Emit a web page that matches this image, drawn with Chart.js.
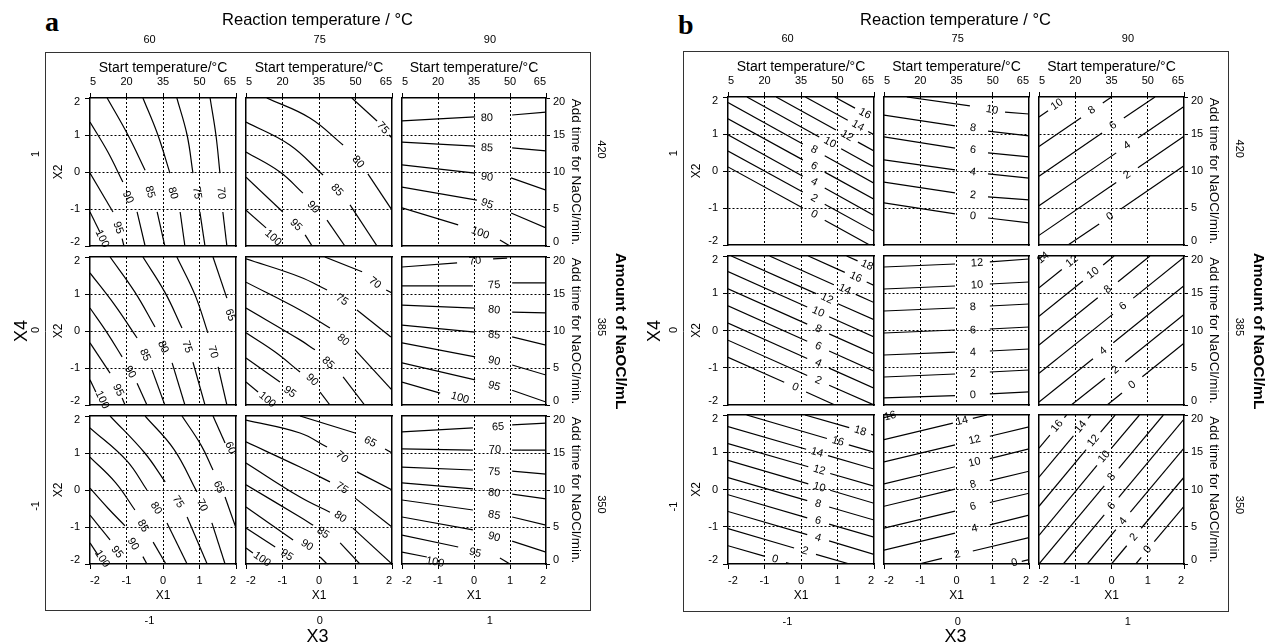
<!DOCTYPE html>
<html><head><meta charset="utf-8">
<script src="https://cdn.jsdelivr.net/npm/chart.js@4.4.1/dist/chart.umd.min.js"></script>
<style>
html,body{margin:0;padding:0;width:1265px;height:644px;overflow:hidden;background:#fff;position:relative;}
canvas{position:absolute;}
.pl{position:absolute;font-family:"Liberation Serif","DejaVu Serif",serif;font-weight:bold;font-size:28px;line-height:28px;color:#000;}
</style></head><body>
<div class="pl" style="left:45px;top:8px;">a</div>
<div class="pl" style="left:678px;top:11px;">b</div>
<script>
// ---------- axis ticks / labels ----------
const x1Ticks = [-2, -1, 0, 1, 2];
const x2Ticks = [-2, -1, 0, 1, 2];
const startTemps = ['5', '20', '35', '50', '65'];
const addTimes = ['0', '5', '10', '15', '20'];
const x3Levels = [-1, 0, 1];
const reactionTemps = ['60', '75', '90'];
const x4Levels = [1, 0, -1];
const naoclAmounts = ['420', '385', '350'];

// ---------- contour lines (X1, X2 coordinates), v = level, at = label position ----------
// panel a : yield
const a11 = [
 {v:70, s:[[[1.29,2],[1.45,1.0],[1.56,-0.03]],[[1.64,-1.08],[1.75,-2]]], at:[1.59,-0.57]},
 {v:75, s:[[[0.38,2],[0.66,1.0],[0.82,-0.03]],[[1.01,-1.08],[1.15,-2]]], at:[0.93,-0.57]},
 {v:80, s:[[[-0.55,2],[-0.14,1.0],[0.19,-0.03]],[[0.47,-1.08],[0.6,-2]]], at:[0.27,-0.57]},
 {v:85, s:[[[-1.53,2],[-0.96,1.0],[-0.49,0.05]],[[-0.16,-1.08],[0.05,-2]]], at:[-0.36,-0.54]},
 {v:90, s:[[[-2,1.35],[-1.51,0.54],[-1.10,-0.27]],[[-0.71,-1.08],[-0.49,-2]]], at:[-0.96,-0.68]},
 {v:95, s:[[[-2,-0.03],[-1.37,-1.08]],[[-1.12,-1.8],[-1.07,-2]]], at:[-1.23,-1.51]},
 {v:100, s:[[[-2,-1.08],[-1.73,-1.62]]], at:[-1.67,-1.80]}
];
const a12 = [
 {v:75, s:[[[0.9,2],[1.59,1.38]],[[1.92,1.0],[2,0.92]]], at:[1.75,1.19]},
 {v:80, s:[[[-1.43,2],[-0.25,1.46],[0.66,0.73]],[[1.34,-0.05],[2,-1.03]]], at:[1.07,0.27]},
 {v:85, s:[[[-2,1.35],[-0.8,0.73],[0.11,-0.08]],[[0.85,-0.89],[1.59,-2]]], at:[0.49,-0.49]},
 {v:90, s:[[[-2,0.54],[-1.07,0],[-0.44,-0.57]],[[0.22,-1.3],[0.71,-2]]], at:[-0.16,-0.95]},
 {v:95, s:[[[-2,-0.14],[-0.99,-1.08]],[[-0.38,-1.7],[-0.19,-2]]], at:[-0.63,-1.43]},
 {v:100, s:[[[-2,-1.03],[-1.45,-1.51]]], at:[-1.26,-1.78]}
];
const a13 = [
 {v:80, s:[[[-2,1.38],[0.03,1.49]],[[1.06,1.54],[2,1.62]]], at:[0.36,1.46]},
 {v:85, s:[[[-2,0.81],[0.03,0.7]],[[1.06,0.65],[2,0.57]]], at:[0.36,0.65]},
 {v:90, s:[[[-2,0.19],[0.03,-0.03]],[[1.03,-0.16],[2,-0.49]]], at:[0.36,-0.14]},
 {v:95, s:[[[-2,-0.41],[0.08,-0.76]],[[1.03,-1.11],[2,-1.51]]], at:[0.36,-0.86]},
 {v:100, s:[[[-2,-0.97],[-0.44,-1.43]],[[0.72,-1.84],[1.0,-2]]], at:[0.17,-1.65]}
];
const a21 = [
 {v:65, s:[[[1.37,2],[1.75,0.89]]], at:[1.84,0.43]},
 {v:70, s:[[[0.38,2],[0.88,0.97],[1.23,-0.05]],[[1.51,-0.97],[1.75,-2]]], at:[1.37,-0.57]},
 {v:75, s:[[[-0.55,2],[0.05,1.05],[0.52,0.08]],[[0.82,-0.84],[1.15,-2]]], at:[0.66,-0.43]},
 {v:80, s:[[[-1.45,2],[-0.77,1.05],[-0.22,0.11]],[[0.25,-0.86],[0.6,-2]]], at:[0,-0.43]},
 {v:85, s:[[[-2,1.57],[-1.32,0.70],[-0.71,-0.19]],[[-0.30,-1.05],[0.05,-2]]], at:[-0.49,-0.65]},
 {v:90, s:[[[-2,0.62],[-1.53,-0.05],[-1.12,-0.70]],[[-0.71,-1.41],[-0.44,-2]]], at:[-0.9,-1.11]},
 {v:95, s:[[[-2,-0.32],[-1.45,-1.14]],[[-1.12,-1.81],[-1.04,-2]]], at:[-1.23,-1.6]},
 {v:100, s:[[[-2,-1.32],[-1.84,-1.65]]], at:[-1.67,-1.86]}
];
const a22 = [
 {v:70, s:[[[0.16,2],[1.18,1.6]],[[1.84,1.11],[2,1.03]]], at:[1.53,1.30]},
 {v:75, s:[[[-2,1.95],[-0.52,1.46],[0.22,1.11]],[[1.04,0.57],[1.97,-0.16]]], at:[0.63,0.84]},
 {v:80, s:[[[-2,1.32],[-0.52,0.57],[0.3,0.08]],[[0.99,-0.51],[2,-1.6]]], at:[0.66,-0.24]},
 {v:85, s:[[[-2,0.62],[-0.52,-0.24],[-0.11,-0.51]],[[0.66,-1.24],[1.25,-2]]], at:[0.25,-0.86]},
 {v:90, s:[[[-2,-0.05],[-1.2,-0.57],[-0.52,-1.11]],[[0.03,-1.65],[0.3,-2]]], at:[-0.19,-1.32]},
 {v:95, s:[[[-2,-0.73],[-1.07,-1.38]]], at:[-0.8,-1.65]},
 {v:100, s:[[[-2,-1.38],[-1.67,-1.65]]], at:[-1.42,-1.86]}
];
const a23 = [
 {v:70, s:[[[-2,1.73],[-0.47,1.84]],[[0.53,1.95],[0.92,1.97]]], at:[0.03,1.89]},
 {v:75, s:[[[-2,1.22],[-0.03,1.22]],[[1.06,1.3],[2,1.3]]], at:[0.56,1.24]},
 {v:80, s:[[[-2,0.70],[0.03,0.62]],[[1.06,0.51],[2,0.49]]], at:[0.56,0.57]},
 {v:85, s:[[[-2,0.16],[0.03,-0.03]],[[1.06,-0.16],[2,-0.38]]], at:[0.56,-0.11]},
 {v:90, s:[[[-2,-0.32],[0.03,-0.70]],[[1.06,-0.92],[2,-1.19]]], at:[0.56,-0.81]},
 {v:95, s:[[[-2,-0.86],[0.03,-1.32]],[[1.06,-1.6],[2,-1.92]]], at:[0.56,-1.49]},
 {v:100, s:[[[-2,-1.38],[-0.94,-1.68]]], at:[-0.39,-1.81]}
];
const a31 = [
 {v:60, s:[[[1.37,2],[1.7,1.27]]], at:[1.84,1.14]},
 {v:65, s:[[[0.52,2],[1.05,1.2],[1.37,0.54]],[[1.7,-0.19],[2,-1.03]]], at:[1.53,0.08]},
 {v:70, s:[[[-0.49,2],[0.3,1.1],[0.93,-0.05]],[[1.34,-0.89],[1.7,-2]]], at:[1.07,-0.41]},
 {v:75, s:[[[-1.45,2],[-0.5,1.0],[0.06,0.22]],[[0.66,-0.73],[1.21,-2]]], at:[0.41,-0.32]},
 {v:80, s:[[[-2,1.68],[-1.0,0.8],[-0.44,0.0]],[[0.11,-0.89],[0.66,-2]]], at:[-0.19,-0.49]},
 {v:85, s:[[[-2,0.89],[-1.3,0.2],[-0.77,-0.54]],[[-0.27,-1.41],[0.08,-2]]], at:[-0.55,-0.97]},
 {v:90, s:[[[-2,0.05],[-1.5,-0.5],[-1.04,-0.97]],[[-0.55,-1.8],[-0.44,-2]]], at:[-0.82,-1.46]},
 {v:95, s:[[[-2,-0.68],[-1.45,-1.35]]], at:[-1.26,-1.68]},
 {v:100, s:[[[-2,-1.43],[-1.78,-1.76]]], at:[-1.67,-1.86]}
];
const a32 = [
 {v:65, s:[[[-0.52,2],[0.99,1.54]],[[1.81,1.11],[2,1.0]]], at:[1.40,1.30]},
 {v:70, s:[[[-2,1.89],[-0.52,1.54],[0.22,1.16]],[[1.04,0.49],[2,0.0]]], at:[0.63,0.89]},
 {v:75, s:[[[-2,1.30],[-0.52,0.62],[0.30,0.22]],[[0.99,-0.22],[2,-1.0]]], at:[0.63,0.05]},
 {v:80, s:[[[-2,0.73],[-0.52,-0.19],[0.30,-0.6]],[[0.93,-1.03],[2,-2]]], at:[0.58,-0.73]},
 {v:85, s:[[[-2,0.14],[-0.52,-0.73],[-0.16,-0.95]],[[0.58,-1.43],[1.12,-2]]], at:[0.11,-1.16]},
 {v:90, s:[[[-2,-0.46],[-0.71,-1.35]],[[0.03,-1.81],[0.22,-2]]], at:[-0.33,-1.49]},
 {v:95, s:[[[-2,-1.03],[-1.2,-1.54]]], at:[-0.88,-1.76]},
 {v:100, s:[[[-2,-1.57],[-1.81,-1.7]]], at:[-1.56,-1.87]}
];
const a33 = [
 {v:65, s:[[[-2,1.57],[-0.03,1.68]],[[1.06,1.76],[2,1.81]]], at:[0.67,1.70]},
 {v:70, s:[[[-2,1.11],[-0.03,1.08]],[[1.06,1.08],[2,1.08]]], at:[0.58,1.08]},
 {v:75, s:[[[-2,0.62],[-0.03,0.54]],[[1.06,0.51],[2,0.43]]], at:[0.56,0.49]},
 {v:80, s:[[[-2,0.19],[-0.03,0.03]],[[1.06,-0.11],[2,-0.24]]], at:[0.56,-0.08]},
 {v:85, s:[[[-2,-0.27],[-0.03,-0.54]],[[1.06,-0.73],[2,-0.95]]], at:[0.56,-0.68]},
 {v:90, s:[[[-2,-0.73],[-0.03,-1.08]],[[1.06,-1.38],[2,-1.68]]], at:[0.56,-1.27]},
 {v:95, s:[[[-2,-1.22],[-0.44,-1.54]],[[0.72,-1.84],[1.0,-2]]], at:[0.03,-1.70]},
 {v:100, s:[[[-2,-1.68],[-1.31,-1.81]]], at:[-1.08,-1.95]}
];
// panel b
const b11 = [
 {v:0, s:[[[-2,0.11],[0.05,-1.0]],[[0.65,-1.33],[1.88,-2]]], at:[0.36,-1.17]},
 {v:2, s:[[[-2,0.54],[0.05,-0.57]],[[0.65,-0.90],[2,-1.63]]], at:[0.36,-0.74]},
 {v:4, s:[[[-2,0.98],[0.05,-0.14]],[[0.65,-0.46],[2,-1.20]]], at:[0.36,-0.30]},
 {v:6, s:[[[-2,1.41],[0.05,0.30]],[[0.65,-0.03],[2,-0.76]]], at:[0.36,0.13]},
 {v:8, s:[[[-2,1.85],[0.05,0.73]],[[0.65,0.41],[2,-0.33]]], at:[0.36,0.57]},
 {v:10, s:[[[-1.48,2],[0.5,0.92]],[[1.1,0.60],[2,0.11]]], at:[0.79,0.77]},
 {v:12, s:[[[-0.68,2],[0.96,1.11]],[[1.56,0.78],[2,0.54]]], at:[1.26,0.95]},
 {v:14, s:[[[0.12,2],[1.28,1.37]],[[1.84,1.07],[2,0.98]]], at:[1.56,1.22]},
 {v:16, s:[[[0.92,2],[1.48,1.70]]], at:[1.75,1.55]}
];
const b12 = [
 {v:10, s:[[[-1.37,2],[0.37,1.76]],[[1.34,1.59],[2,1.54]]], at:[0.98,1.65]},
 {v:8, s:[[[-2,1.51],[-0.04,1.22]],[[0.87,1.08],[2,0.95]]], at:[0.455,1.16]},
 {v:6, s:[[[-2,0.92],[-0.04,0.62]],[[0.87,0.49],[2,0.38]]], at:[0.455,0.57]},
 {v:4, s:[[[-2,0.30],[-0.04,0.03]],[[0.87,-0.08],[2,-0.19]]], at:[0.455,-0.03]},
 {v:2, s:[[[-2,-0.30],[-0.04,-0.59]],[[0.87,-0.70],[2,-0.78]]], at:[0.455,-0.65]},
 {v:0, s:[[[-2,-0.86],[-0.04,-1.16]],[[0.87,-1.27],[2,-1.40]]], at:[0.455,-1.22]}
];
const b13 = [
 {v:10, s:[[[-2,1.46],[-1.75,1.63]]], at:[-1.5,1.8]},
 {v:8, s:[[[-2,0.66],[-0.84,1.44]],[[-0.24,1.84],[0,2]]], at:[-0.54,1.64]},
 {v:6, s:[[[-2,-0.14],[-0.26,1.03]],[[0.34,1.43],[1.2,2]]], at:[0.04,1.23]},
 {v:4, s:[[[-2,-0.94],[0.13,0.49]],[[0.73,0.89],[2,1.74]]], at:[0.43,0.69]},
 {v:2, s:[[[-2,-1.74],[0.13,-0.31]],[[0.73,0.09],[2,0.94]]], at:[0.43,-0.11]},
 {v:0, s:[[[-1.2,-2],[-0.34,-1.43]],[[0.26,-1.03],[2,0.14]]], at:[-0.04,-1.23]}
];
const b21 = [
 {v:0, s:[[[-2,-0.72],[-0.46,-1.39]],[[0.14,-1.65],[0.93,-2]]], at:[-0.16,-1.52]},
 {v:2, s:[[[-2,-0.26],[0.17,-1.21]],[[0.77,-1.47],[2,-2]]], at:[0.47,-1.34]},
 {v:4, s:[[[-2,0.20],[0.17,-0.75]],[[0.77,-1.01],[2,-1.55]]], at:[0.47,-0.88]},
 {v:6, s:[[[-2,0.66],[0.17,-0.29]],[[0.77,-0.55],[2,-1.09]]], at:[0.47,-0.42]},
 {v:8, s:[[[-2,1.12],[0.17,0.17]],[[0.77,-0.09],[2,-0.63]]], at:[0.47,0.04]},
 {v:10, s:[[[-2,1.58],[0.17,0.63]],[[0.77,0.37],[2,-0.17]]], at:[0.47,0.50]},
 {v:12, s:[[[-1.91,2],[0.41,0.99]],[[1.01,0.72],[2,0.29]]], at:[0.71,0.855]},
 {v:14, s:[[[-0.86,2],[0.9,1.23]],[[1.5,0.97],[2,0.75]]], at:[1.2,1.10]},
 {v:16, s:[[[0.2,2],[1.2,1.56]],[[1.8,1.30],[2,1.21]]], at:[1.5,1.43]},
 {v:18, s:[[[1.25,2],[1.55,1.87]]], at:[1.81,1.75]}
];
const b22 = [
 {v:12, s:[[[-2,1.705],[-0.04,1.785]],[[0.92,1.84],[2,1.92]]], at:[0.566,1.81]},
 {v:10, s:[[[-2,1.114],[-0.04,1.195]],[[0.92,1.248],[2,1.302]]], at:[0.566,1.22]},
 {v:8, s:[[[-2,0.523],[-0.04,0.604]],[[0.92,0.658],[2,0.711]]], at:[0.455,0.63]},
 {v:6, s:[[[-2,-0.067],[-0.04,0.013]],[[0.92,0.04],[2,0.094]]], at:[0.455,0.0]},
 {v:4, s:[[[-2,-0.658],[-0.04,-0.578]],[[0.92,-0.55],[2,-0.497]]], at:[0.455,-0.59]},
 {v:2, s:[[[-2,-1.248],[-0.04,-1.168]],[[0.92,-1.114],[2,-1.06]]], at:[0.455,-1.16]},
 {v:0, s:[[[-2,-1.81],[-0.04,-1.75]],[[0.92,-1.7],[2,-1.65]]], at:[0.455,-1.73]}
];
const b23 = [
 {v:14, s:[[[-2,1.92],[-1.9,2]]], at:[-1.89,1.95]},
 {v:12, s:[[[-2,1.15],[-1.37,1.64]]], at:[-1.09,1.86]},
 {v:10, s:[[[-2,0.38],[-0.79,1.33]],[[-0.23,1.76],[0.07,2]]], at:[-0.51,1.54]},
 {v:8, s:[[[-2,-0.39],[-0.38,0.88]],[[0.18,1.31],[1.06,2]]], at:[-0.10,1.10]},
 {v:6, s:[[[-2,-1.15],[0.04,0.44]],[[0.6,0.87],[2,1.97]]], at:[0.32,0.65]},
 {v:4, s:[[[-2,-1.92],[-0.51,-0.76]],[[0.05,-0.33],[2,1.20]]], at:[-0.23,-0.55]},
 {v:2, s:[[[-1.11,-2],[-0.18,-1.28]],[[0.38,-0.84],[2,0.43]]], at:[0.10,-1.06]},
 {v:0, s:[[[-0.12,-2],[0.29,-1.68]],[[0.85,-1.24],[2,-0.34]]], at:[0.57,-1.46]}
];
const b31 = [
 {v:0, s:[[[-2,-1.51],[-1.01,-1.79]],[[-0.41,-1.96],[-0.27,-2]]], at:[-0.71,-1.87]},
 {v:2, s:[[[-2,-1.05],[-0.19,-1.57]],[[0.41,-1.74],[1.33,-2]]], at:[0.11,-1.65]},
 {v:4, s:[[[-2,-0.59],[0.17,-1.21]],[[0.77,-1.38],[2,-1.74]]], at:[0.47,-1.30]},
 {v:6, s:[[[-2,-0.14],[0.17,-0.76]],[[0.77,-0.93],[2,-1.28]]], at:[0.47,-0.84]},
 {v:8, s:[[[-2,0.32],[0.17,-0.30]],[[0.77,-0.47],[2,-0.82]]], at:[0.47,-0.39]},
 {v:10, s:[[[-2,0.78],[0.2,0.15]],[[0.8,-0.02],[2,-0.37]]], at:[0.5,0.06]},
 {v:12, s:[[[-2,1.23],[0.2,0.61]],[[0.8,0.43],[2,0.09]]], at:[0.5,0.52]},
 {v:14, s:[[[-2,1.69],[0.14,1.08]],[[0.74,0.91],[2,0.55]]], at:[0.44,0.99]},
 {v:16, s:[[[-1.49,2],[0.71,1.37]],[[1.31,1.20],[2,1.0]]], at:[1.01,1.29]},
 {v:18, s:[[[0.11,2],[1.32,1.66]],[[1.92,1.48],[2,1.46]]], at:[1.62,1.57]}
];
const b32 = [
 {v:16, s:[[[-2,1.93],[-1.7,2]]], at:[-1.83,1.97]},
 {v:14, s:[[[-2,1.34],[-0.1,1.78]],[[0.45,1.91],[0.84,2]]], at:[0.15,1.84]},
 {v:12, s:[[[-2,0.74],[-0.04,1.20]],[[0.92,1.43],[2,1.68]]], at:[0.5,1.33]},
 {v:10, s:[[[-2,0.15],[-0.04,0.61]],[[0.92,0.83],[2,1.09]]], at:[0.5,0.73]},
 {v:8, s:[[[-2,-0.45],[-0.04,0.01]],[[0.92,0.24],[2,0.49]]], at:[0.455,0.13]},
 {v:6, s:[[[-2,-1.04],[-0.04,-0.58]],[[0.92,-0.35],[2,-0.10]]], at:[0.455,-0.46]},
 {v:4, s:[[[-2,-1.63],[-0.04,-1.17]],[[0.92,-0.95],[2,-0.69]]], at:[0.5,-1.05]},
 {v:2, s:[[[-1.04,-2],[-0.4,-1.85]],[[0.45,-1.65],[2,-1.29]]], at:[0.02,-1.75]},
 {v:0, s:[[[1.8,-1.93],[2,-1.88]]], at:[1.6,-1.97]}
];
const b33 = [
 {v:16, s:[[[-2,1.11],[-1.7,1.46]],[[-1.3,1.93],[-1.24,2]]], at:[-1.5,1.70]},
 {v:14, s:[[[-2,0.33],[-1.05,1.44]],[[-0.65,1.91],[-0.57,2]]], at:[-0.85,1.68]},
 {v:12, s:[[[-2,-0.45],[-0.7,1.07]],[[-0.3,1.54],[0.1,2]]], at:[-0.5,1.31]},
 {v:10, s:[[[-2,-1.23],[-0.4,0.65]],[[0,1.11],[0.77,2]]], at:[-0.2,0.88]},
 {v:8, s:[[[-2,-2],[-0.2,0.10]],[[0.2,0.57],[1.43,2]]], at:[0,0.335]},
 {v:6, s:[[[-1.33,-2],[-0.2,-0.68]],[[0.2,-0.21],[2,1.89]]], at:[0,-0.44]},
 {v:4, s:[[[-0.67,-2],[0.12,-1.08]],[[0.52,-0.61],[2,1.11]]], at:[0.32,-0.85]},
 {v:2, s:[[[0,-2],[0.42,-1.51]],[[0.82,-1.04],[2,0.33]]], at:[0.62,-1.28]},
 {v:0, s:[[[0.67,-2],[0.82,-1.82]],[[1.18,-1.40],[2,-0.45]]], at:[1.0,-1.61]}
];

// ---------- rendering ----------
const FONT = '"Liberation Sans", Arial, Helvetica, sans-serif';
Chart.defaults.font.family = FONT;
Chart.defaults.color = '#000';

function place(left, top, w, h) {
  const c = document.createElement('canvas');
  c.width = w; c.height = h;
  c.style.left = left + 'px'; c.style.top = top + 'px';
  c.style.width = w + 'px'; c.style.height = h + 'px';
  document.body.appendChild(c);
  return c;
}
function fix(size, horiz) {
  return s => {
    if (horiz) s.height = size; else s.width = size;
    s.paddingLeft = 0; s.paddingRight = 0; s.paddingTop = 0; s.paddingBottom = 0;
  };
}
function mkDatasets(contours) {
  const ds = [];
  contours.forEach(c => c.s.forEach(seg => ds.push({
    data: seg.map(p => ({x: p[0], y: p[1]})),
    showLine: true, borderColor: '#000', borderWidth: 1.2,
    pointRadius: 0, pointHoverRadius: 0, tension: seg.length > 2 ? 0.4 : 0, fill: false
  })));
  return ds;
}
function labelPlugin(contours) {
  return {
    id: 'contourLabels',
    afterDatasetsDraw(chart) {
      const {ctx} = chart; const xs = chart.scales.x, ys = chart.scales.y;
      ctx.save();
      ctx.font = '11px ' + FONT; ctx.fillStyle = '#000';
      ctx.textAlign = 'center'; ctx.textBaseline = 'middle';
      contours.forEach(c => {
        if (!c.at) return;
        let p0, p1;
        if (c.s.length > 1) { const a = c.s[0], b = c.s[1]; p0 = a[a.length - 1]; p1 = b[0]; }
        else { const a = c.s[0]; p0 = a[a.length - 2]; p1 = a[a.length - 1]; }
        const dx = xs.getPixelForValue(p1[0]) - xs.getPixelForValue(p0[0]);
        const dy = ys.getPixelForValue(p1[1]) - ys.getPixelForValue(p0[1]);
        let ang = Math.atan2(dy, dx);
        if (ang > Math.PI / 2) ang -= Math.PI;
        if (ang <= -Math.PI / 2) ang += Math.PI;
        ctx.save();
        ctx.translate(xs.getPixelForValue(c.at[0]), ys.getPixelForValue(c.at[1]));
        ctx.rotate(ang);
        ctx.fillText(String(c.v), 0, 0);
        ctx.restore();
      });
      ctx.restore();
    }
  };
}

const M = 45;
function subplot(l, t, r, b, contours, e) {
  const W = r - l, H = b - t;
  const cv = place(l - M, t - M, W + 2 * M, H + 2 * M);
  const edgeGrid = c => (c.tick && Math.abs(c.tick.value) > 1.5) ? 'rgba(0,0,0,0)' : '#000';
  const setX = s => { s.ticks = x1Ticks.map(v => ({value: v})); };
  const setY = s => { s.ticks = x2Ticks.map(v => ({value: v})); };
  const yLab = arr => (v, i) => i === 0 ? [String(arr[i]), ''] : (i === arr.length - 1 ? ['', String(arr[i])] : String(arr[i]));
  const bord = {display: true, color: '#000', width: 1.5, dash: [2, 2]};
  new Chart(cv, {
    type: 'scatter',
    data: {datasets: mkDatasets(contours)},
    options: {
      responsive: false, animation: false, devicePixelRatio: 1, events: [],
      layout: {padding: 0},
      plugins: {legend: {display: false}, tooltip: {enabled: false}},
      scales: {
        x: {type: 'linear', position: 'bottom', min: -2, max: 2, afterBuildTicks: setX, afterFit: fix(M, true),
          grid: {display: true, color: edgeGrid, lineWidth: 1, drawTicks: e.bottom, tickLength: 5, tickColor: '#000', tickWidth: 1},
          border: bord,
          ticks: {display: e.bottom, align: 'inner', padding: 4.9, font: {size: 11}, color: '#000', autoSkip: false, maxRotation: 0, minRotation: 0,
            callback: (v, i) => String(x1Ticks[i])},
          title: {display: e.bottom, text: 'X1', font: {size: 12}, color: '#000', padding: {top: 0, bottom: 6.3}}},
        x2: {type: 'linear', axis: 'x', position: 'top', min: -2, max: 2, afterBuildTicks: setX, afterFit: fix(M, true),
          grid: {display: e.top, drawOnChartArea: false, drawTicks: e.top, tickLength: 5, tickColor: '#000', tickWidth: 1},
          border: {display: true, color: '#000', width: 1.5},
          ticks: {display: e.top, align: 'inner', padding: 4, font: {size: 11}, color: '#000', autoSkip: false, maxRotation: 0, minRotation: 0,
            callback: (v, i) => startTemps[i]},
          title: {display: e.top, text: 'Start temperature/\u00b0C', font: {size: 14}, color: '#000', padding: {top: 6.6, bottom: 0}}},
        y: {type: 'linear', position: 'left', min: -2, max: 2, afterBuildTicks: setY, afterFit: fix(M, false),
          grid: {display: true, color: edgeGrid, lineWidth: 1, drawTicks: e.left, tickLength: 5, tickColor: '#000', tickWidth: 1},
          border: bord,
          ticks: {display: e.left, padding: 5, font: {size: 11, lineHeight: 0.75}, color: '#000', autoSkip: false,
            callback: yLab(x2Ticks)},
          title: {display: e.left, text: 'X2', font: {size: 12}, color: '#000', padding: {top: 6.3, bottom: 0}}},
        y2: {type: 'linear', axis: 'y', position: 'right', min: -2, max: 2, afterBuildTicks: setY, afterFit: fix(M, false),
          grid: {display: e.right, drawOnChartArea: false, drawTicks: e.right, tickLength: 4, tickColor: '#000', tickWidth: 1},
          border: {display: true, color: '#000', width: 1.5},
          ticks: {display: e.right, padding: 3, font: {size: 11, lineHeight: 0.75}, color: '#000', autoSkip: false,
            callback: yLab(addTimes)},
          title: {display: e.right, text: 'Add time for NaOCl/min.', font: {size: 13.5}, color: '#000', padding: {top: 7, bottom: 0}}}
      }
    },
    plugins: [labelPlugin(contours)]
  });
}

const outerLabels = {
  id: 'outerLabels',
  afterDraw(chart) {
    const {ctx, chartArea, scales} = chart;
    ctx.save();
    ctx.font = '11px ' + FONT; ctx.fillStyle = '#000';
    ctx.textAlign = 'center'; ctx.textBaseline = 'middle';
    x4Levels.forEach((v, i) => {
      ctx.save(); ctx.translate(chartArea.left - 9, scales.y.getPixelForValue(v)); ctx.rotate(-Math.PI / 2);
      ctx.fillText(String(v), 0, 0); ctx.restore();
      ctx.save(); ctx.translate(chartArea.right + 11, scales.y2.getPixelForValue(v)); ctx.rotate(Math.PI / 2);
      ctx.fillText(naoclAmounts[i], 0, 0); ctx.restore();
    });
    ctx.restore();
  }
};
function outer(o) {
  const cv = place(o.cl, o.ct, o.cw, o.ch);
  const L = o.box.l - o.cl, T = o.box.t - o.ct, R = o.cl + o.cw - o.box.r, B = o.ct + o.ch - o.box.b;
  const setT = s => { s.ticks = x3Levels.map(v => ({value: v})); };
  const bd = {display: true, color: '#333', width: 1};
  new Chart(cv, {
    type: 'scatter', data: {datasets: []},
    options: {
      responsive: false, animation: false, devicePixelRatio: 1, events: [],
      layout: {padding: 0},
      plugins: {legend: {display: false}, tooltip: {enabled: false}},
      scales: {
        x: {type: 'linear', position: 'bottom', min: -1.614, max: 1.588, afterBuildTicks: setT, afterFit: fix(B, true),
          grid: {display: false, drawTicks: false}, border: bd,
          ticks: {padding: 4.4, font: {size: 11}, color: '#000', autoSkip: false, maxRotation: 0, callback: (v, i) => String(x3Levels[i])},
          title: {display: true, text: 'X3', font: {size: 18}, color: '#000', padding: {top: 0, bottom: 12.2}}},
        x2: {type: 'linear', axis: 'x', position: 'top', min: -1.614, max: 1.588, afterBuildTicks: setT, afterFit: fix(T, true),
          grid: {display: false, drawTicks: false}, border: bd,
          ticks: {padding: 5.4, font: {size: 11}, color: '#000', autoSkip: false, maxRotation: 0, callback: (v, i) => reactionTemps[i]},
          title: {display: true, text: 'Reaction temperature / \u00b0C', font: {size: 16.5}, color: '#000', padding: {top: 10.1, bottom: 0}}},
        y: {type: 'linear', position: 'left', min: -1.591, max: 1.579, afterFit: fix(L, false),
          grid: {display: false, drawTicks: false}, border: bd, ticks: {display: false},
          title: {display: true, text: 'X4', font: {size: 18}, color: '#000', padding: {top: 11.2, bottom: 0}}},
        y2: {type: 'linear', axis: 'y', position: 'right', min: -1.595, max: 1.549, afterFit: fix(R, false),
          grid: {display: false, drawTicks: false}, border: bd, ticks: {display: false},
          title: {display: true, text: 'Amount of NaOCl/mL', font: {size: 15.5, weight: 'bold'}, color: '#000', padding: {top: 7.7, bottom: 0}}}
      }
    },
    plugins: [outerLabels]
  });
}

const panels = [
  {outer: {cl: 0, ct: 0, cw: 637, ch: 660, box: {l: 45, t: 52, r: 590, b: 610}},
   cols: [[90, 236], [246, 392], [402, 546]], rows: [[98, 246], [257, 405], [416, 564]],
   subs: [[a11, a12, a13], [a21, a22, a23], [a31, a32, a33]]},
  {outer: {cl: 633, ct: 0, cw: 642, ch: 660, box: {l: 683, t: 51, r: 1228, b: 611}},
   cols: [[728, 874], [884, 1029], [1039, 1184]], rows: [[97, 245], [256, 405], [415, 564]],
   subs: [[b11, b12, b13], [b21, b22, b23], [b31, b32, b33]]}
];
panels.forEach(p => outer(p.outer));
panels.forEach(p => {
  p.rows.forEach((rw, ri) => p.cols.forEach((cl, ci) => {
    subplot(cl[0], rw[0], cl[1], rw[1], p.subs[ri][ci],
      {top: ri === 0, bottom: ri === 2, left: ci === 0, right: ci === 2});
  }));
});
</script>
</body></html>
